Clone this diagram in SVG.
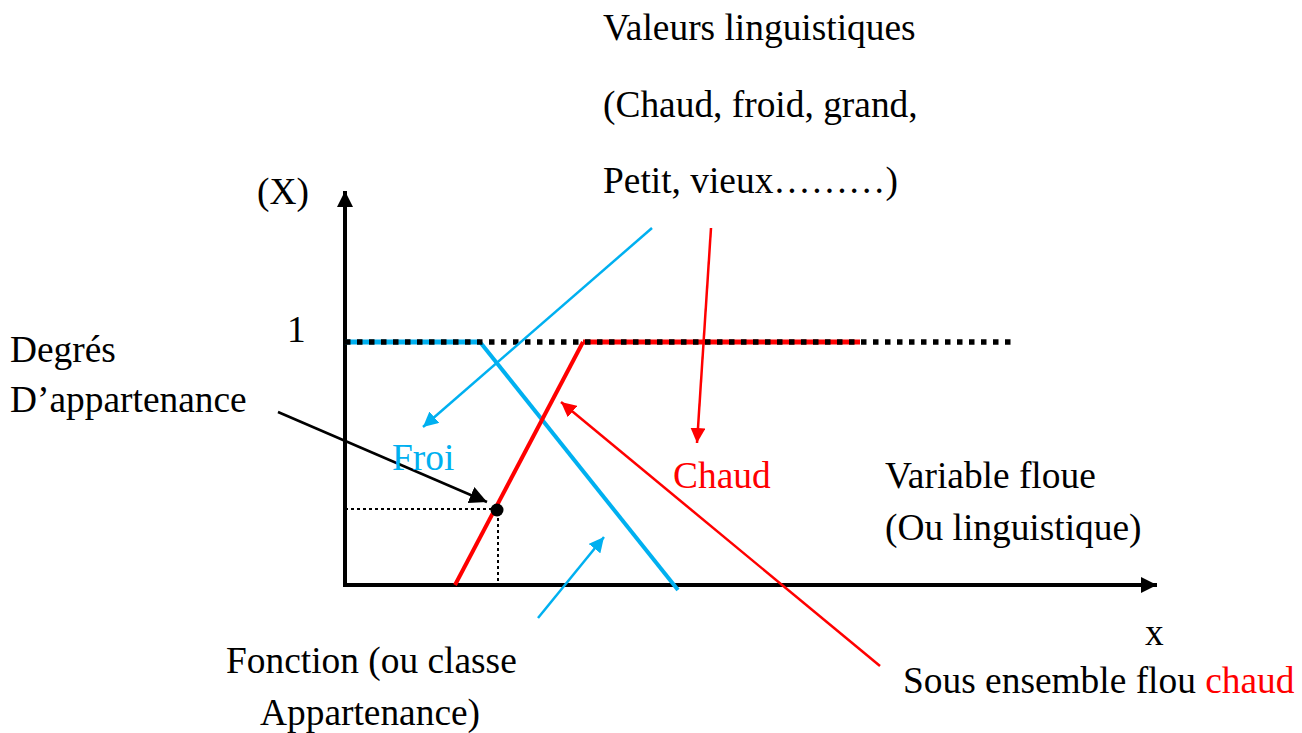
<svg xmlns="http://www.w3.org/2000/svg" width="1302" height="733" viewBox="0 0 1302 733">
<defs>
<style>
text{font-family:"Liberation Serif","Times New Roman",serif;font-size:37.4px;fill:#000}
.b{fill:#00b0f0}.r{fill:#ff0000}
.ax{stroke:#000;stroke-width:4;fill:none}
.dot{stroke:#000;stroke-width:5.5;stroke-dasharray:5.5 6.5;fill:none}
.thin{stroke:#000;stroke-width:2;stroke-dasharray:3 3;fill:none}
</style>
<marker id="ak" viewBox="0 0 10 10" refX="10" refY="5" markerWidth="4" markerHeight="4" markerUnits="strokeWidth" orient="auto"><path d="M0,0L10,5L0,10z" fill="#000"/></marker>
<marker id="akt" viewBox="0 0 10 10" refX="10" refY="5" markerWidth="7" markerHeight="7" markerUnits="strokeWidth" orient="auto"><path d="M0,0L10,5L0,10z" fill="#000"/></marker>
<marker id="ab" viewBox="0 0 10 10" refX="10" refY="5" markerWidth="6" markerHeight="6" markerUnits="strokeWidth" orient="auto"><path d="M0,0L10,5L0,10z" fill="#00b0f0"/></marker>
<marker id="ar" viewBox="0 0 10 10" refX="10" refY="5" markerWidth="6" markerHeight="6" markerUnits="strokeWidth" orient="auto"><path d="M0,0L10,5L0,10z" fill="#ff0000"/></marker>
</defs>
<g id="axes">
<line class="ax" x1="345" y1="587" x2="345" y2="191" marker-end="url(#ak)"/>
<line class="ax" x1="343" y1="585" x2="1157" y2="585" marker-end="url(#ak)"/>
</g>
<g id="curves">
<line x1="345" y1="342" x2="480" y2="342" stroke="#00b0f0" stroke-width="5"/>
<line x1="480" y1="342" x2="678" y2="590" stroke="#00b0f0" stroke-width="4"/>
<line x1="583" y1="342" x2="860" y2="342" stroke="#ff0000" stroke-width="5"/>
<line x1="583" y1="342" x2="455" y2="585" stroke="#ff0000" stroke-width="4"/>
<line class="dot" x1="345" y1="342" x2="1012" y2="342"/>
<line class="thin" x1="345" y1="509" x2="495" y2="509"/>
<line class="thin" x1="498" y1="512" x2="498" y2="584"/>
<circle cx="497" cy="510" r="6.5" fill="#000"/>
</g>
<g id="connectors">
<line x1="652" y1="228" x2="423" y2="427" stroke="#00b0f0" stroke-width="2.5" marker-end="url(#ab)"/>
<line x1="711" y1="228" x2="697" y2="443" stroke="#ff0000" stroke-width="2.5" marker-end="url(#ar)"/>
<line x1="880" y1="666" x2="561" y2="402" stroke="#ff0000" stroke-width="2.5" marker-end="url(#ar)"/>
<line x1="278" y1="412" x2="487" y2="502" stroke="#000" stroke-width="2.5" marker-end="url(#akt)"/>
<line x1="538" y1="618" x2="604" y2="537" stroke="#00b0f0" stroke-width="2.5" marker-end="url(#ab)"/>
</g>
<g id="labels">
<text x="603" y="40">Valeurs linguistiques</text>
<text x="603" y="117">(Chaud, froid, grand,</text>
<text x="603" y="193">Petit, vieux………)</text>
<text x="257" y="204">(X)</text>
<text x="287" y="342">1</text>
<text x="10" y="362">Degrés</text>
<text x="10" y="412">D’appartenance</text>
<text x="392" y="470" class="b">Froi</text>
<text x="673" y="488" class="r">Chaud</text>
<text x="885" y="488">Variable floue</text>
<text x="885" y="540">(Ou linguistique)</text>
<text x="1145" y="645">x</text>
<text x="226" y="673">Fonction (ou classe</text>
<text x="260" y="725">Appartenance)</text>
<text x="903" y="693">Sous ensemble flou <tspan class="r">chaud</tspan></text>
</g>
</svg>
